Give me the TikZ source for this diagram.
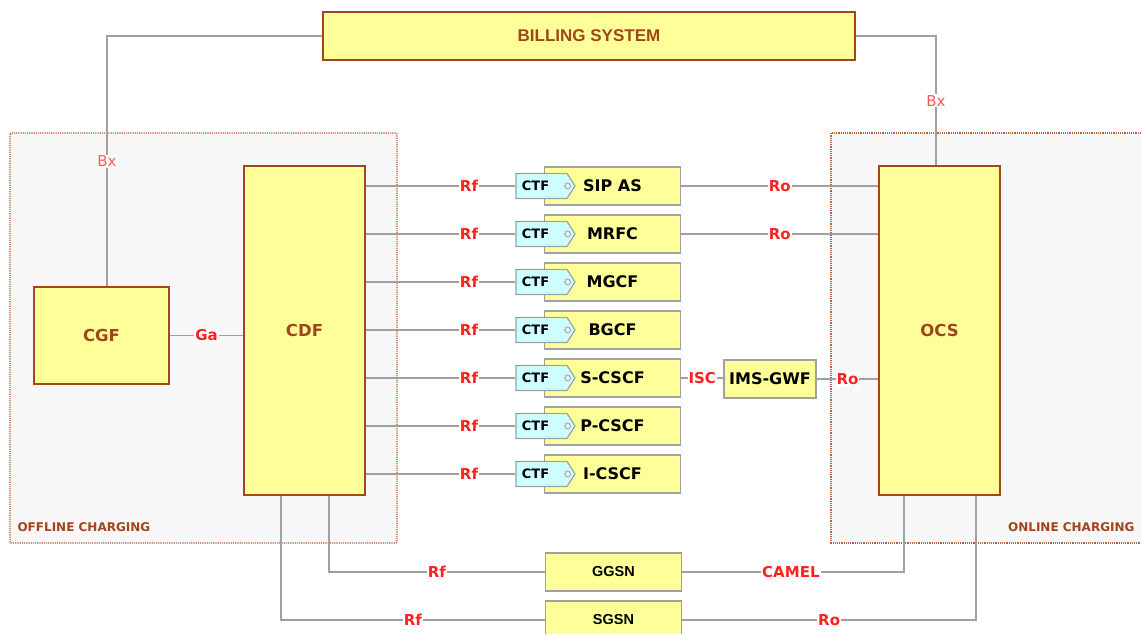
\documentclass[tikz,border=0pt]{standalone}
\usepackage{fontspec}
\setmainfont{DejaVu Sans}
\newfontfamily\arialfont{Liberation Sans}
\usetikzlibrary{shapes.symbols}

\definecolor{boxyellow}{HTML}{FFFF99}
\definecolor{boxbrown}{HTML}{A3471B}
\definecolor{textbrown}{HTML}{A0451C}
\definecolor{ctfcyan}{HTML}{CCFFFF}
\definecolor{linegray}{HTML}{A0A0A0}
\definecolor{lblred}{HTML}{FF2020}
\definecolor{areagray}{HTML}{F7F7F7}

\tikzset{
  mainbox/.style={draw=boxbrown, line width=1.6pt, fill=boxyellow, text=textbrown,
    font=\bfseries\fontsize{16.5}{18}\selectfont, inner sep=0pt},
  elembox/.style={draw=linegray, line width=1.5pt, fill=boxyellow, inner sep=0pt,
    minimum width=136, minimum height=38, font=\bfseries\fontsize{16}{18}\selectfont},
  gsnbox/.style={elembox, font=\arialfont\bfseries\fontsize{14.5}{16}\selectfont},
  ctfbox/.style={shape=signal, signal to=east, signal pointer angle=115, draw=linegray,
    line width=1.2pt, fill=ctfcyan, inner sep=0pt, minimum width=59, minimum height=25,
    font=\bfseries\fontsize{13}{15}\selectfont},
  link/.style={draw=linegray, line width=1.5pt},
  lbl/.style={fill=white, text=lblred, inner sep=1pt, font=\bfseries\fontsize{15}{17}\selectfont},
  bxlbl/.style={lbl, text=lblred!75, font=\fontsize{15}{17}\selectfont},
  area/.style={draw=boxbrown!85, dash pattern=on 1.2pt off 1pt, line width=1.1pt, fill=areagray},
  arealbl/.style={text=textbrown, font=\bfseries\fontsize{12}{14}\selectfont}
}

\begin{document}
\begin{tikzpicture}[x=1pt, y=-1pt]
  \clip (0,0) rectangle (1141,634);
  \fill[white] (0,0) rectangle (1141,634);

  % charging domains
  \draw[area, rounded corners=1] (10,133) rectangle (397,543);
  \fill[areagray] (831,133) rectangle (1141,543);
  \draw[area, fill=none] (1141,133) -- (831,133) -- (831,543) -- (1141,543);
  \node[arealbl, anchor=west] (offline) at (14,527) {OFFLINE CHARGING};
  \node[arealbl, anchor=east] (online) at (1138,527) {ONLINE CHARGING};

  % main functions
  \node[mainbox, minimum width=532, minimum height=48, font=\arialfont\bfseries\fontsize{17}{19}\selectfont] (billing) at (589,36) {BILLING SYSTEM};
  \node[mainbox, minimum width=135, minimum height=97] (cgf) at (101.5,335.5) {CGF};
  \node[mainbox, minimum width=121, minimum height=329] (cdf) at (304.5,330.5) {CDF};
  \node[mainbox, minimum width=121, minimum height=329] (ocs) at (939.5,330.5) {OCS};

  \draw[link] ([xshift=5.5]cgf.north) -- node[bxlbl]{Bx} ([xshift=5.5]cgf.north |- billing.west) -- (billing.west);
  \draw[link] (billing.east) -| node[bxlbl, pos=0.75]{Bx} ([xshift=-3.5]ocs.north);
  \draw[link] (cgf.east) -- node[lbl]{Ga} (cgf.east -| cdf.west);

  % network elements with their CTF
  \foreach \n/\t [count=\i from 0] in {sipas/SIP AS, mrfc/MRFC, mgcf/MGCF, bgcf/BGCF, scscf/S-CSCF, pcscf/P-CSCF, icscf/I-CSCF} {
    \node[elembox] (\n) at (612.5, 186+48*\i) {\t};
    \node[ctfbox] (ctf\n) at (541.5, 186+48*\i) {\hspace*{-12pt}CTF};
    \draw[linegray!80, line width=1.4pt, fill=white] ([xshift=-8]ctf\n.east) circle (2.8);
    \draw[link] (cdf.east |- ctf\n.west) -- node[lbl, pos=0.69]{Rf} (ctf\n.west);
  }

  \node[elembox, minimum width=92] (imsgwf) at (770,379) {IMS-GWF};
  \node[gsnbox] (ggsn) at (613.5,572) {GGSN};
  \node[gsnbox] (sgsn) at (613.5,620) {SGSN};

  % online interfaces
  \draw[link] (sipas.east) -- node[lbl]{Ro} (sipas.east -| ocs.west);
  \draw[link] (mrfc.east) -- node[lbl]{Ro} (mrfc.east -| ocs.west);
  \draw[link] (scscf.east) -- node[lbl]{ISC} (scscf.east -| imsgwf.west);
  \draw[link] (imsgwf.east) -- node[lbl]{Ro} (imsgwf.east -| ocs.west);
  \draw[link] (ggsn.east) -| node[lbl, pos=0.245]{CAMEL} ([xshift=-35.5]ocs.south);
  \draw[link] (sgsn.east) -| node[lbl, pos=0.25]{Ro} ([xshift=36.5]ocs.south);

  % offline interfaces of the packet core
  \draw[link] ([xshift=24.5]cdf.south) |- node[lbl, pos=0.75]{Rf} (ggsn.west);
  \draw[link] ([xshift=-23.5]cdf.south) |- node[lbl, pos=0.75]{Rf} (sgsn.west);
\end{tikzpicture}
\end{document}
